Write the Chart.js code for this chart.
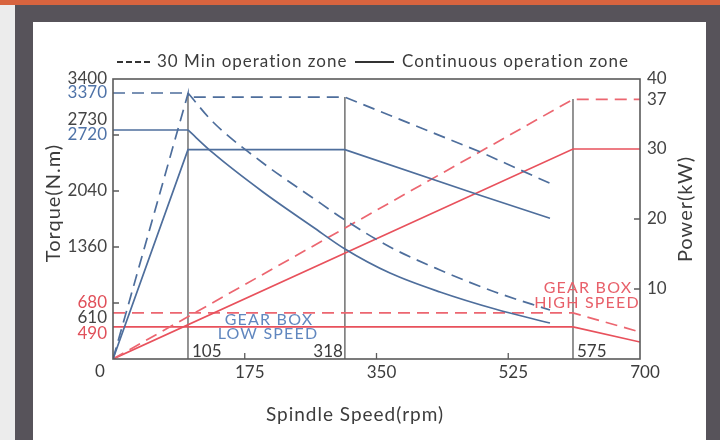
<!DOCTYPE html>
<html><head><meta charset="utf-8">
<script src="https://cdn.jsdelivr.net/npm/chart.js@4.4.1/dist/chart.umd.min.js"></script>
<style>
html,body{margin:0;padding:0;width:720px;height:440px;overflow:hidden;background:#ececec;}
#frame{position:absolute;left:15px;top:0;width:705px;height:440px;background:#57535a;}
#stripe{position:absolute;left:0;top:0;width:720px;height:5px;background:#d8643f;}
#panel{position:absolute;left:33px;top:22px;width:673px;height:418px;background:#fff;}
#wrap{position:absolute;left:0;top:0;width:720px;height:440px;}
</style></head><body>
<div id="frame"></div><div id="stripe"></div><div id="panel"></div>
<div id="wrap"><canvas id="c" width="720" height="440"></canvas></div>
<script>
// ---- tick labels ----
const speedTicks  = [0, 175, 350, 525, 700];
const torqueTicks = [0, 680, 1360, 2040, 2720, 3400];
const powerTicks  = [0, 10, 20, 30, 37, 40];

// ---- low speed gear box (blue) ----
const lowTorque30Rpm  = [0, 99.6, 132.8, 199.2, 265.6, 308.1, 367.9, 434.3, 507.4, 580.4];
const lowTorque30Nm   = [3230, 3230, 2878, 2380, 1955, 1688, 1360, 1081, 814, 595];
const lowTorqueS1Rpm  = [0, 99.6, 132.8, 199.2, 265.6, 308.1, 367.9, 434.3, 507.4, 580.4];
const lowTorqueS1Nm   = [2781, 2781, 2502, 2028, 1603, 1336, 1044, 814, 607, 437];
const lowPower30Rpm   = [0, 99.6, 99.6, 308, 487.4, 580.4];
const lowPower30Kw    = [0, 37.9, 37.4, 37.4, 29.6, 25.1];
const lowPowerS1Rpm   = [0, 99.6, 308, 487.4, 580.4];
const lowPowerS1Kw    = [0, 29.9, 29.9, 23.4, 20.1];

// ---- high speed gear box (red) ----
const highRpm         = [0, 611, 700];
const highPower30Kw   = [0, 37.1, 37.1];
const highPowerS1Kw   = [0, 30, 30];
const highTorque30Nm  = [559, 559, 328];
const highTorqueS1Nm  = [389, 389, 206];

// ---- base speed markers ----
const baseRpm    = [99.6, 308, 611];
const baseTopNm  = [3230, 3182, 3157];
const baseLabels = ['105', '318', '575'];

// ---- extra torque labels ----
const torqueNoteText = ['3370', '2730', '610', '490'];
const torqueNoteAt   = [3230, 2902, 498, 304];
const torqueNoteCol  = ['#4f73a8', '#444', '#444', '#e0505a'];

const BLUE = '#4e6e9c', RED = '#e8515c', RED2 = '#ec6670', GRAY = '#707070', TXT = '#3c3c3c';
const FONT = 'Lato, "Noto Sans", sans-serif';

const pts = (xs, ys) => xs.map((v, i) => ({x: v, y: ys[i]}));
function ds(data, color, axis, dashed, curved) {
  return {data, borderColor: color, borderWidth: 1.7, borderDash: dashed ? [12, 7] : [],
    yAxisID: axis, pointRadius: 0, fill: false,
    cubicInterpolationMode: curved ? 'monotone' : 'default', tension: 0};
}
const t30 = pts(lowTorque30Rpm, lowTorque30Nm), tS1 = pts(lowTorqueS1Rpm, lowTorqueS1Nm);
const datasets = [
  ds(t30.slice(0, 2), BLUE, 'y', true, false),
  ds(t30.slice(1), BLUE, 'y', true, true),
  ds(tS1.slice(0, 2), BLUE, 'y', false, false),
  ds(tS1.slice(1), BLUE, 'y', false, true),
  ds(pts(lowPower30Rpm, lowPower30Kw), BLUE, 'y1', true, false),
  ds(pts(lowPowerS1Rpm, lowPowerS1Kw), BLUE, 'y1', false, false),
  ds(pts(highRpm, highPower30Kw), RED2, 'y1', true, false),
  ds(pts(highRpm, highPowerS1Kw), RED, 'y1', false, false),
  ds(pts(highRpm, highTorque30Nm), RED2, 'y', true, false),
  ds(pts(highRpm, highTorqueS1Nm), RED, 'y', false, false),
];
baseRpm.forEach((r, i) => {
  const d = ds([{x: r, y: 0}, {x: r, y: baseTopNm[i]}], GRAY, 'y', false, false);
  d.borderWidth = 1.5;
  datasets.push(d);
});

function spaced(ctx, px) { if ('letterSpacing' in ctx) ctx.letterSpacing = px + 'px'; }

const deco = {
  id: 'deco',
  afterDatasetsDraw(chart) {
    const {ctx, chartArea: a, scales: {x, y, y1}} = chart;
    ctx.save();
    ctx.strokeStyle = '#5b5b5b'; ctx.lineWidth = 1.6; ctx.setLineDash([]);
    ctx.strokeRect(a.left, a.top, a.right - a.left, a.bottom - a.top);
    ctx.lineWidth = 1.3;
    ctx.beginPath();
    [680, 1360, 2040, 2720].forEach(v => { const p = y.getPixelForValue(v); ctx.moveTo(a.left, p); ctx.lineTo(a.left + 6, p); });
    [10, 20].forEach(v => { const p = y1.getPixelForValue(v); ctx.moveTo(a.right, p); ctx.lineTo(a.right - 6, p); });
    [175, 350, 525].forEach(v => { const p = x.getPixelForValue(v); ctx.moveTo(p, a.bottom); ctx.lineTo(p, a.bottom - 6); });
    ctx.stroke();

    // extra torque labels
    ctx.font = '17px ' + FONT; ctx.textAlign = 'right'; ctx.textBaseline = 'middle';
    torqueNoteText.forEach((t, i) => { ctx.fillStyle = torqueNoteCol[i]; ctx.fillText(t, a.left - 6, y.getPixelForValue(torqueNoteAt[i])); });
    ctx.fillStyle = TXT; ctx.textAlign = 'center';
    ctx.fillText('0', a.left - 13, a.bottom + 13);

    // base speed labels
    ctx.fillStyle = TXT; ctx.font = '17px ' + FONT; ctx.textBaseline = 'alphabetic';
    const b0 = x.getPixelForValue(baseRpm[0]), b1 = x.getPixelForValue(baseRpm[1]), b2 = x.getPixelForValue(baseRpm[2]);
    ctx.textAlign = 'left'; ctx.fillText(baseLabels[0], b0 + 4, a.bottom - 2);
    ctx.textAlign = 'right'; ctx.fillText(baseLabels[1], b1 - 2, a.bottom - 2);
    ctx.textAlign = 'left'; ctx.fillText(baseLabels[2], b2 + 4, a.bottom - 2);

    // gear box notes
    ctx.save();
    spaced(ctx, 1.2);
    ctx.font = '16px ' + FONT; ctx.textAlign = 'center'; ctx.textBaseline = 'middle';
    ctx.fillStyle = '#6187bf';
    ctx.fillText('GEAR BOX', 269, 320); ctx.fillText('LOW SPEED', 268, 334);
    ctx.fillStyle = '#e8606a';
    ctx.fillText('GEAR BOX', 588, 288); ctx.fillText('HIGH SPEED', 587, 303);
    ctx.restore();

    // legend
    ctx.strokeStyle = '#333'; ctx.lineWidth = 2;
    ctx.setLineDash([6, 3]); ctx.beginPath(); ctx.moveTo(117, 62); ctx.lineTo(151, 62); ctx.stroke();
    ctx.setLineDash([]); ctx.beginPath(); ctx.moveTo(355, 62); ctx.lineTo(394, 62); ctx.stroke();
    ctx.save();
    spaced(ctx, 1);
    ctx.fillStyle = TXT; ctx.font = '17px ' + FONT; ctx.textAlign = 'left'; ctx.textBaseline = 'middle';
    ctx.fillText('30 Min operation zone', 157, 62);
    ctx.fillText('Continuous operation zone', 402, 62);

    // axis titles
    ctx.font = '19px ' + FONT; ctx.textAlign = 'center';
    ctx.fillText('Spindle Speed(rpm)', 355, 415);
    ctx.font = '20px ' + FONT;
    ctx.save(); ctx.translate(54, 203); ctx.rotate(-Math.PI / 2); ctx.fillText('Torque(N.m)', 0, 0); ctx.restore();
    ctx.save(); ctx.translate(686, 209); ctx.rotate(-Math.PI / 2); ctx.fillText('Power(kW)', 0, 0); ctx.restore();
    ctx.restore();
    ctx.restore();
  }
};

new Chart(document.getElementById('c'), {
  type: 'line',
  data: {datasets},
  options: {
    responsive: false, animation: false,
    layout: {padding: {left: 0, top: 79, right: 20, bottom: 51}},
    plugins: {legend: {display: false}, tooltip: {enabled: false}},
    scales: {
      x: {type: 'linear', min: 0, max: 700,
        afterBuildTicks: s => { s.ticks = speedTicks.map(v => ({value: v})); },
        afterFit: s => { s.height = 30; },
        grid: {display: false, drawTicks: false}, border: {display: false},
        ticks: {padding: 3, labelOffset: 5, color: TXT, font: {size: 17, family: FONT},
          callback: v => v === 0 ? '' : String(v)}},
      y: {position: 'left', min: 0, max: 3400,
        afterBuildTicks: s => { s.ticks = torqueTicks.map(v => ({value: v})); },
        afterFit: s => { s.width = 113; },
        grid: {display: false, drawTicks: false}, border: {display: false},
        ticks: {padding: 6, font: {size: 17, family: FONT},
          color: c => c.tick && c.tick.value === 2720 ? '#4f73a8' : (c.tick && c.tick.value === 680 ? '#e0505a' : '#444'),
          callback: v => v === 0 ? '' : String(v)}},
      y1: {position: 'right', min: 0, max: 40,
        afterBuildTicks: s => { s.ticks = powerTicks.map(v => ({value: v})); },
        afterFit: s => { s.width = 60; },
        grid: {display: false, drawTicks: false}, border: {display: false},
        ticks: {padding: 7, color: '#444', font: {size: 17, family: FONT},
          callback: v => v === 0 ? '' : String(v)}}
    }
  },
  plugins: [deco]
});
</script>
</body></html>
